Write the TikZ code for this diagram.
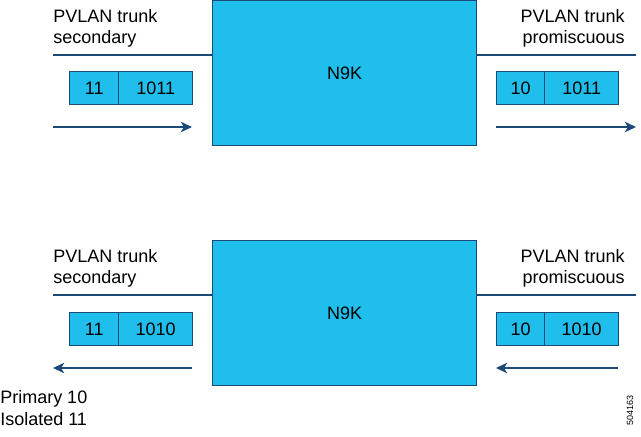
\documentclass[tikz,border=0pt]{standalone}
\usepackage{fontspec}
\setmainfont{Liberation Sans}
\usetikzlibrary{arrows.meta,calc}
\definecolor{boxfill}{HTML}{1FBEEC}
\definecolor{navy}{HTML}{1B4A78}
\tikzset{
  sw/.style={draw=navy, line width=1pt, fill=boxfill, inner sep=0pt, anchor=north west},
  bigbox/.style={sw, minimum width=264*0.75pt, minimum height=145*0.75pt, font=\fontsize{13.5}{16}\selectfont},
  pkt/.style={sw, minimum height=33*0.75pt, font=\fontsize{13.5}{16}\selectfont},
  lbl/.style={inner sep=0pt, font=\fontsize{13.5}{16}\selectfont},
  rule/.style={draw=navy, line width=0.9pt},
  flow/.style={draw=navy, line width=1pt, -{Stealth[length=8.5pt,width=8pt,inset=2.5pt]}},
}
\begin{document}
\begin{tikzpicture}[x=0.75pt,y=-0.75pt]
\useasboundingbox (0,0) rectangle (641,436);
% ---------- top ----------
\node[bigbox] (b1) at (212,0) {N9K};
\node[lbl, anchor=north west, align=left] (t1l) at (53,9) {PVLAN trunk\\secondary};
\node[lbl, anchor=north east, align=right] (t1r) at (625,9) {PVLAN trunk\\promiscuous};
\coordinate (r1l) at (53,55);
\coordinate (r1r) at (636,55);
\draw[rule] (r1l) -- (r1l -| b1.west);
\draw[rule] (b1.east |- r1r) -- (r1r);
\node[pkt, minimum width=49*0.75pt] (p1a) at (69,71) {11};
\node[pkt, minimum width=74*0.75pt] (p1b) at (118,71) {1011};
\node[pkt, minimum width=48*0.75pt] (p1c) at (496,71) {10};
\node[pkt, minimum width=74*0.75pt] (p1d) at (544,71) {1011};
\coordinate (a1s) at (53,127);
\coordinate (a1e) at (192,127);
\coordinate (a2s) at (496,127);
\coordinate (a2e) at (636,127);
\draw[flow] (a1s) -- (a1e);
\draw[flow] (a2s) -- (a2e);
% ---------- bottom ----------
\node[bigbox] (b2) at (212,240) {N9K};
\node[lbl, anchor=north west, align=left] (t2l) at (53,249) {PVLAN trunk\\secondary};
\node[lbl, anchor=north east, align=right] (t2r) at (625,249) {PVLAN trunk\\promiscuous};
\coordinate (r2l) at (53,295);
\coordinate (r2r) at (636,295);
\draw[rule] (r2l) -- (r2l -| b2.west);
\draw[rule] (b2.east |- r2r) -- (r2r);
\node[pkt, minimum width=49*0.75pt] (p2a) at (69,312) {11};
\node[pkt, minimum width=74*0.75pt] (p2b) at (118,312) {1010};
\node[pkt, minimum width=48*0.75pt] (p2c) at (496,312) {10};
\node[pkt, minimum width=74*0.75pt] (p2d) at (544,312) {1010};
\coordinate (a3s) at (192,368);
\coordinate (a3e) at (53,368);
\coordinate (a4s) at (618,368);
\coordinate (a4e) at (496,368);
\draw[flow] (a3s) -- (a3e);
\draw[flow] (a4s) -- (a4e);
% ---------- legend ----------
\node[lbl, anchor=north west, align=left, font=\fontsize{13.5}{17}\selectfont] (leg) at (0,390) {Primary 10\\Isolated 11};
\node[inner sep=0pt, rotate=90, font=\fontsize{6.75}{8}\selectfont] (id) at (630,410) {504163};
\end{tikzpicture}
\end{document}
